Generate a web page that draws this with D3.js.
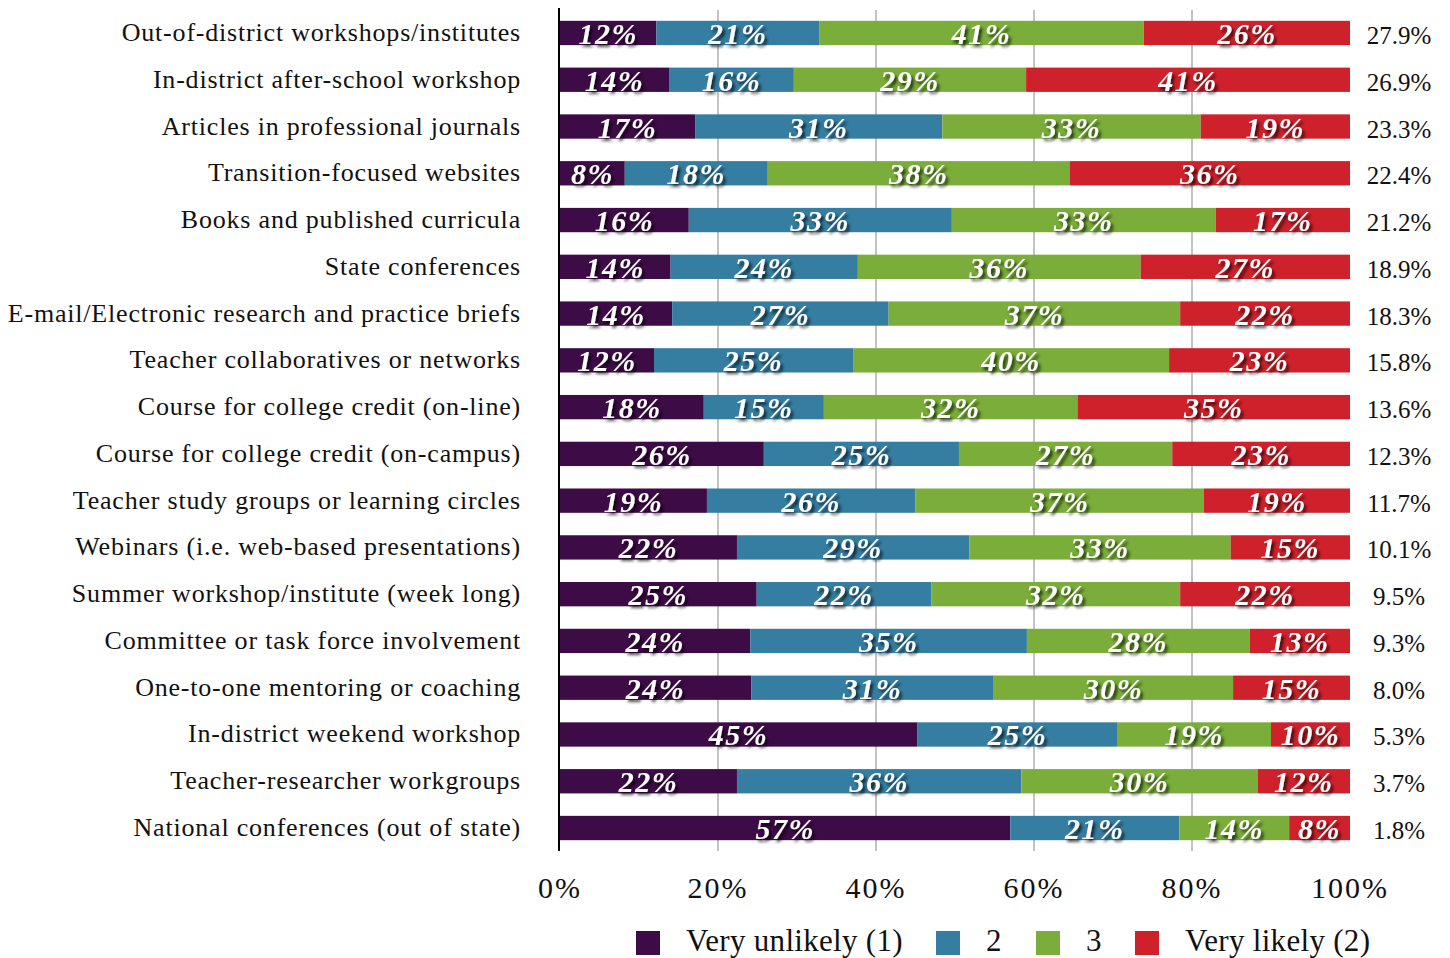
<!DOCTYPE html>
<html>
<head>
<meta charset="utf-8">
<script src="https://cdn.jsdelivr.net/npm/d3@7"></script>
<style>
  body { margin: 0; background: #fff; }
  text { font-family: "Liberation Serif", "Times New Roman", serif; }
</style>
</head>
<body>
<script>
// categories, top to bottom
var categories = [
    "Out-of-district workshops/institutes",
    "In-district after-school workshop",
    "Articles in professional journals",
    "Transition-focused websites",
    "Books and published curricula",
    "State conferences",
    "E-mail/Electronic research and practice briefs",
    "Teacher collaboratives or networks",
    "Course for college credit (on-line)",
    "Course for college credit (on-campus)",
    "Teacher study groups or learning circles",
    "Webinars (i.e. web-based presentations)",
    "Summer workshop/institute (week long)",
    "Committee or task force involvement",
    "One-to-one mentoring or coaching",
    "In-district weekend workshop",
    "Teacher-researcher workgroups",
    "National conferences (out of state)"
]

// series values (percent of respondents)
var veryUnlikely = [12.2, 13.8, 17.1, 8.2, 16.3, 14.0, 14.2, 11.9, 18.2, 25.8, 18.6, 22.4, 24.9, 24.1, 24.2, 45.2, 22.4, 57.0]
var two          = [20.6, 15.8, 31.3, 18.1, 33.3, 23.7, 27.4, 25.2, 15.2, 24.7, 26.4, 29.4, 22.1, 35.0, 30.7, 25.4, 36.0, 21.4]
var three        = [41.1, 29.4, 32.7, 38.2, 33.4, 35.8, 36.9, 40.0, 32.1, 27.0, 36.5, 33.1, 31.5, 28.2, 30.3, 19.4, 29.9, 13.9]
var veryLikely   = [26.1, 41.0, 18.9, 35.5, 17.0, 26.5, 21.5, 22.9, 34.5, 22.5, 18.5, 15.1, 21.5, 12.7, 14.8, 10.0, 11.7, 7.7]

// right-hand column
var totals = ["27.9%", "26.9%", "23.3%", "22.4%", "21.2%", "18.9%", "18.3%", "15.8%", "13.6%", "12.3%",
              "11.7%", "10.1%", "9.5%", "9.3%", "8.0%", "5.3%", "3.7%", "1.8%"]

var seriesNames = ["Very unlikely (1)", "2", "3", "Very likely (2)"]
var seriesKeys = ["u", "two", "three", "l"]
var colours = ["#3d0b46", "#357ea1", "#7aad3a", "#cf212b"]
var xTicks = [0, 20, 40, 60, 80, 100]

var width = 1450, height = 958

var svg = d3.select("body")
    .append("svg")
    .attr("width", width)
    .attr("height", height)

// drop shadow for bar labels
var defs = svg.append("defs")
defs.append("filter")
    .attr("id", "shadow")
    .attr("x", "-20%").attr("y", "-30%")
    .attr("width", "150%").attr("height", "180%")
  .append("feDropShadow")
    .attr("dx", 2.5)
    .attr("dy", 3)
    .attr("stdDeviation", 1.6)
    .attr("flood-color", "#000")
    .attr("flood-opacity", 0.7)

var x = d3.scaleLinear()
    .domain([0, 100])
    .range([560, 1350])

var y = d3.scaleBand()
    .domain(categories)
    .range([9.6, 851.4])
    .paddingInner(0.48)
    .paddingOuter(0.24)

var rows = categories.map((c, i) => ({
    name: c, u: veryUnlikely[i], two: two[i], three: three[i], l: veryLikely[i]
}))

var stack = d3.stack().keys(seriesKeys)
var stacked = stack(rows)

// gridlines
svg.selectAll(".grid")
    .data(xTicks.filter((t) => t > 0 && t < 100))
    .enter()
    .append("line")
        .attr("x1", (d) => x(d))
        .attr("x2", (d) => x(d))
        .attr("y1", 10)
        .attr("y2", 851)
        .attr("stroke", "#c3c3c3")
        .attr("stroke-width", 2)

// bars
var layers = svg.selectAll(".layer")
    .data(stacked)
    .enter()
    .append("g")
        .attr("fill", (d, i) => colours[i])

layers.selectAll("rect")
    .data((d) => d)
    .enter()
    .append("rect")
        .attr("x", (d) => x(d[0]))
        .attr("y", (d) => y(d.data.name))
        .attr("width", (d) => x(d[1]) - x(d[0]))
        .attr("height", y.bandwidth())

// axis line
svg.append("line")
    .attr("x1", 559).attr("x2", 559)
    .attr("y1", 8).attr("y2", 851)
    .attr("stroke", "#000")
    .attr("stroke-width", 2)

// bar labels
var labels = svg.append("g").attr("filter", "url(#shadow)")
stacked.forEach((layer) => {
    labels.selectAll(null)
        .data(layer)
        .enter()
        .append("text")
            .attr("x", (d) => (x(d[0]) + x(d[1])) / 2)
            .attr("y", (d) => y(d.data.name) + y.bandwidth() / 2 + 11)
            .attr("text-anchor", "middle")
            .attr("fill", "#fff")
            .style("font-size", "30px")
            .style("font-weight", "bold")
            .style("font-style", "italic")
            .style("letter-spacing", "1.5px")
            .text((d) => Math.round(d[1] - d[0]) + "%")
})

// category labels
svg.selectAll(".cat")
    .data(categories)
    .enter()
    .append("text")
        .attr("x", 521)
        .attr("y", (d) => y(d) + y.bandwidth() / 2 + 8)
        .attr("text-anchor", "end")
        .attr("fill", "#111")
        .style("font-size", "26px")
        .style("letter-spacing", "0.8px")
        .text((d) => d)

// right-hand totals
svg.selectAll(".tot")
    .data(totals)
    .enter()
    .append("text")
        .attr("x", 1399)
        .attr("y", (d, i) => y(categories[i]) + y.bandwidth() / 2 + 11)
        .attr("text-anchor", "middle")
        .attr("fill", "#111")
        .style("font-size", "25px")
        .text((d) => d)

// x tick labels
svg.selectAll(".tick")
    .data(xTicks)
    .enter()
    .append("text")
        .attr("x", (d) => x(d))
        .attr("y", 898)
        .attr("text-anchor", "middle")
        .attr("fill", "#111")
        .style("font-size", "30px")
        .style("letter-spacing", "2px")
        .text((d) => d + "%")

// legend
var legendX = [636, 936, 1036, 1135]
var legend = svg.selectAll(".legend")
    .data(seriesNames)
    .enter()
    .append("g")
        .attr("transform", (d, i) => "translate(" + legendX[i] + ",931)")
legend.append("rect")
    .attr("width", 24)
    .attr("height", 24)
    .attr("fill", (d, i) => colours[i])
legend.append("text")
    .attr("x", 50)
    .attr("y", 20)
    .attr("fill", "#111")
    .style("font-size", "31px")
    .style("letter-spacing", "0.3px")
    .text((d) => d)
</script>
</body>
</html>
